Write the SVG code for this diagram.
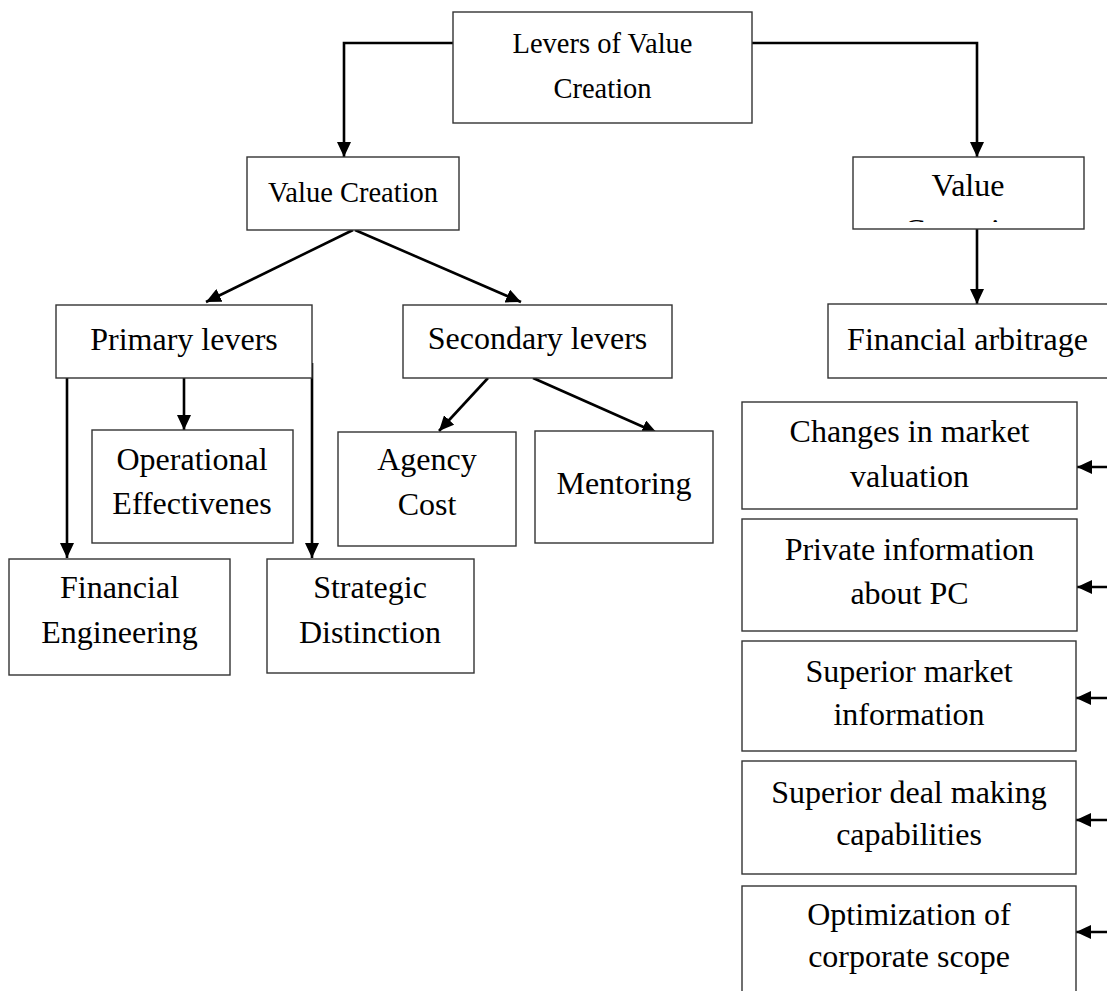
<svg xmlns="http://www.w3.org/2000/svg" width="1107" height="991" viewBox="0 0 1107 991">
<style>
.box{fill:#fff;stroke:#333;stroke-width:1.4}
.t{font-family:"Liberation Serif","Times New Roman",serif;font-size:32px;fill:#000;text-anchor:middle}
.ts{font-size:28.5px}
.c{fill:none;stroke:#000;stroke-width:2.6}
</style>
<defs>
<marker id="ah" viewBox="0 0 15 14" markerWidth="15" markerHeight="14" refX="15" refY="7" orient="auto" markerUnits="userSpaceOnUse">
<path d="M0,0 L15,7 L0,14 z" fill="#000"/>
</marker>
<clipPath id="capclip"><rect x="853" y="157" width="231" height="65"/></clipPath>
</defs>
<rect width="1107" height="991" fill="#fff"/>

<g id="connectors">
<polyline class="c" points="453,43 344,43 344,157" marker-end="url(#ah)"/>
<polyline class="c" points="752,43 977,43 977,157" marker-end="url(#ah)"/>
<line class="c" x1="977" y1="229" x2="977" y2="304" marker-end="url(#ah)"/>
<line class="c" x1="353" y1="230" x2="206" y2="302" marker-end="url(#ah)"/>
<line class="c" x1="355" y1="230" x2="521" y2="302" marker-end="url(#ah)"/>
<line class="c" x1="67" y1="378" x2="67" y2="558" marker-end="url(#ah)"/>
<line class="c" x1="184" y1="378" x2="184" y2="430" marker-end="url(#ah)"/>
<line class="c" x1="312" y1="363" x2="312" y2="558" marker-end="url(#ah)"/>
<line class="c" x1="488" y1="378" x2="439" y2="431" marker-end="url(#ah)"/>
<line class="c" x1="533" y1="378" x2="657" y2="433" marker-end="url(#ah)"/>
<line class="c" x1="1110" y1="467" x2="1077" y2="467" marker-end="url(#ah)"/>
<line class="c" x1="1110" y1="587" x2="1077" y2="587" marker-end="url(#ah)"/>
<line class="c" x1="1110" y1="698" x2="1076" y2="698" marker-end="url(#ah)"/>
<line class="c" x1="1110" y1="820" x2="1076" y2="820" marker-end="url(#ah)"/>
<line class="c" x1="1110" y1="932" x2="1076" y2="932" marker-end="url(#ah)"/>
</g>

<g id="levers">
<rect class="box" x="453" y="12" width="299" height="111"/>
<text class="t ts" x="602.5" y="53">Levers of Value</text>
<text class="t ts" x="602.5" y="98">Creation</text>
</g>
<g id="value-creation">
<rect class="box" x="247" y="157" width="212" height="73"/>
<text class="t ts" x="353" y="202">Value Creation</text>
</g>
<g id="value-capturing">
<rect class="box" x="853" y="157" width="231" height="72"/>
<text class="t" x="968" y="196">Value</text>
<text class="t" x="968" y="241" clip-path="url(#capclip)">Capturing</text>
</g>
<g id="financial-arbitrage">
<rect class="box" x="828" y="304" width="290" height="74"/>
<text class="t" x="967.5" y="350">Financial arbitrage</text>
</g>
<g id="primary-levers">
<rect class="box" x="56" y="305" width="256" height="73"/>
<text class="t" x="184" y="350">Primary levers</text>
</g>
<g id="secondary-levers">
<rect class="box" x="403" y="305" width="269" height="73"/>
<text class="t" x="537.5" y="349">Secondary levers</text>
</g>
<g id="operational">
<rect class="box" x="92" y="430" width="201" height="113"/>
<text class="t" x="192" y="470">Operational</text>
<text class="t" x="192" y="514">Effectivenes</text>
</g>
<g id="agency-cost">
<rect class="box" x="338" y="432" width="178" height="114"/>
<text class="t" x="427" y="470">Agency</text>
<text class="t" x="427" y="515">Cost</text>
</g>
<g id="mentoring">
<rect class="box" x="535" y="431" width="178" height="112"/>
<text class="t" x="624" y="494">Mentoring</text>
</g>
<g id="financial-engineering">
<rect class="box" x="9" y="559" width="221" height="116"/>
<text class="t" x="119.5" y="598">Financial</text>
<text class="t" x="119.5" y="643">Engineering</text>
</g>
<g id="strategic-distinction">
<rect class="box" x="267" y="559" width="207" height="114"/>
<text class="t" x="370" y="598">Strategic</text>
<text class="t" x="370" y="643">Distinction</text>
</g>
<g id="changes">
<rect class="box" x="742" y="402" width="335" height="107"/>
<text class="t" x="909.5" y="442">Changes in market</text>
<text class="t" x="909.5" y="487">valuation</text>
</g>
<g id="private-info">
<rect class="box" x="742" y="519" width="335" height="112"/>
<text class="t" x="909.5" y="560">Private information</text>
<text class="t" x="909.5" y="604">about PC</text>
</g>
<g id="superior-market">
<rect class="box" x="742" y="641" width="334" height="110"/>
<text class="t" x="909" y="682">Superior market</text>
<text class="t" x="909" y="725">information</text>
</g>
<g id="superior-deal">
<rect class="box" x="742" y="761" width="334" height="113"/>
<text class="t" x="909" y="803">Superior deal making</text>
<text class="t" x="909" y="845">capabilities</text>
</g>
<g id="optimization">
<rect class="box" x="742" y="886" width="334" height="120"/>
<text class="t" x="909" y="925">Optimization of</text>
<text class="t" x="909" y="967">corporate scope</text>
</g>
</svg>
